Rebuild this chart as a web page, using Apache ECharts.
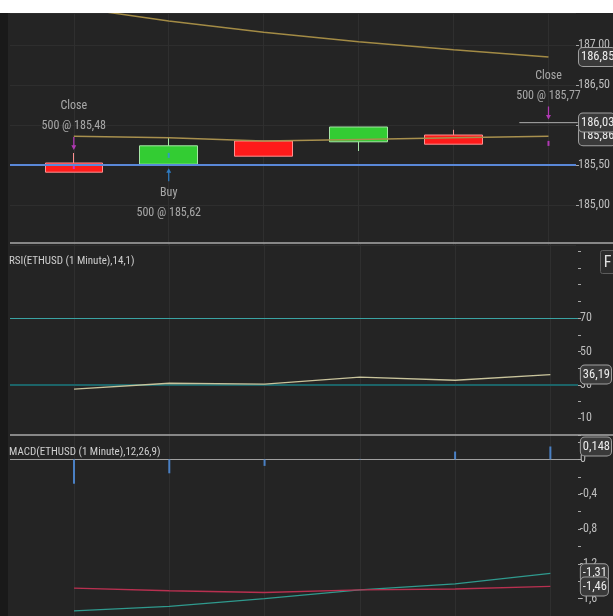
<!DOCTYPE html>
<html><head><meta charset="utf-8">
<script src="https://cdn.jsdelivr.net/npm/echarts@6/dist/echarts.min.js"></script>
<style>html,body{margin:0;padding:0;background:#fff;overflow:hidden}#c{width:613px;height:616px}</style>
</head><body><div id="c"></div>
<script>
// ---- data ----
const barIndex    = [0, 1, 2, 3, 4, 5];
const candleOpen  = [185.525, 185.51, 185.80, 185.79, 185.875, 186.03];
const candleClose = [185.41, 185.74, 185.61, 185.975, 185.76, 186.03];
const candleLow   = [185.41, 185.51, 185.61, 185.675, 185.76, 186.03];
const candleHigh  = [185.65, 185.85, 185.80, 185.975, 185.94, 186.03];
const slowMA = [187.47, 187.30, 187.16, 187.04, 186.94, 186.85];
const fastMA = [185.86, 185.84, 185.80, 185.82, 185.84, 185.86];
const positionPrice = 185.50;
const tradeIndex = [0, 1, 5];
const tradeSide  = ['Close', 'Buy', 'Close'];
const tradeQty   = [500, 500, 500];
const tradePrice = [185.48, 185.62, 185.77];
const rsiValues = [27.5, 31.0, 30.5, 34.7, 32.8, 36.19];
const rsiLevels = [70, 30];
const rsiLabelTicks = [10, 30, 50, 70];
const macdHist   = [-0.28, -0.16, -0.075, 0.005, 0.09, 0.148];
const macdLine   = [-1.74, -1.69, -1.60, -1.50, -1.43, -1.31];
const macdSignal = [-1.48, -1.51, -1.53, -1.50, -1.49, -1.46];
const rsiTitle  = 'RSI(ETHUSD (1 Minute),14,1)';
const macdTitle = 'MACD(ETHUSD (1 Minute),12,26,9)';

// ---- font pick (narrowest installed) ----
function pickFont(list) {
  const c = document.createElement('canvas').getContext('2d');
  const s = '500 @ 185,48 ETHUSD Minute';
  for (const f of list) {
    c.font = '20px monospace'; const a = c.measureText(s).width;
    c.font = "20px '" + f + "', monospace"; const b = c.measureText(s).width;
    if (Math.abs(a - b) > 0.5) return f;
  }
  return 'sans-serif';
}
const FONT_NAME = pickFont(['Liberation Sans Narrow', 'Arial Narrow', 'Roboto Condensed', 'Noto Sans Condensed',
  'Open Sans Condensed', 'DejaVu Sans Condensed', 'Liberation Sans', 'Roboto']);
const FONT = "'" + FONT_NAME + "', sans-serif";
const NARROW = /Narrow|Condensed/.test(FONT_NAME);
const FS_TEXT = NARROW ? 12 : 11;
const FS_AXIS = NARROW ? 12 : 11;
const FS_TAG = NARROW ? 12.5 : 11;
const FS_TITLE = NARROW ? 11 : 10.5;

// ---- helpers ----
const fmt = (v, d) => v.toFixed(d).replace('.', ',');
const last = barIndex.length - 1;
const pts = arr => barIndex.map(i => [i, arr[i]]);
function tag(value, digits) {
  return {
    symbol: 'circle', symbolSize: 1, itemStyle: {color: 'transparent'},
    label: {
      show: true, position: 'right', distance: 30,
      formatter: () => fmt(value, digits),
      color: '#ececec', fontSize: FS_TAG, fontFamily: FONT,
      backgroundColor: '#3a3a3a', borderColor: '#a0a0a0', borderWidth: 1,
      borderRadius: 4, padding: [3, 1, 2, 2]
    },
    data: [{coord: [barIndex[last], value], value: value}]
  };
}
const vGrid = barIndex.map(i => ({xAxis: i}));
const xRange = {min: -0.672, max: 5.29};
const yBase = {
  type: 'value', position: 'right', scale: true,
  axisLine: {show: false, onZero: false},
  axisTick: {show: true, length: 3, lineStyle: {color: '#a8a8a8'}},
  axisLabel: {color: '#bdbdbd', fontSize: FS_AXIS, fontFamily: FONT, margin: 2},
  splitLine: {show: false}
};

const chart = echarts.init(document.getElementById('c'));
chart.setOption({
  animation: false,
  backgroundColor: '#242424',
  title: [
    {text: rsiTitle, left: 9, top: 256, padding: 0,
     textStyle: {color: '#cfcfcf', fontSize: FS_TITLE, fontWeight: 'normal', fontFamily: FONT}},
    {text: macdTitle, left: 9, top: 447, padding: 0,
     textStyle: {color: '#cfcfcf', fontSize: FS_TITLE, fontWeight: 'normal', fontFamily: FONT}}
  ],
  grid: [
    {left: 10, right: 35, top: 13, height: 232},
    {left: 10, right: 35, top: 243, height: 192},
    {left: 10, right: 35, top: 435, height: 185}
  ],
  xAxis: [0, 1, 2].map(g => Object.assign({type: 'value', gridIndex: g, show: false,
    axisLine: {onZero: false}}, xRange)),
  yAxis: [
    Object.assign({}, yBase, {gridIndex: 0, min: 184.5, max: 187.4, interval: 0.5,
      axisLabel: Object.assign({}, yBase.axisLabel, {showMinLabel: false, showMaxLabel: false, formatter: v => fmt(v, 2)}),
      splitLine: {show: true, lineStyle: {color: '#2e2e2e'}}}),
    Object.assign({}, yBase, {gridIndex: 1, min: 0, max: 115, interval: 10,
      axisLabel: Object.assign({}, yBase.axisLabel, {showMaxLabel: false,
        formatter: v => rsiLabelTicks.includes(Math.round(v)) && Math.abs(v - Math.round(v)) < 1e-6 ? String(Math.round(v)) : ''})}),
    Object.assign({}, yBase, {gridIndex: 2, min: -1.8, max: 0.28, interval: 0.2,
      axisLabel: Object.assign({}, yBase.axisLabel, {showMaxLabel: false, formatter: v => {
        if (Math.abs(v) < 1e-9) return '0';
        const k = v / 0.4;
        return Math.abs(k - Math.round(k)) < 1e-6 ? fmt(v, 1) : '';
      }})})
  ],
  series: [
    // price panel
    {type: 'line', xAxisIndex: 0, yAxisIndex: 0, data: pts(fastMA), symbol: 'none',
     lineStyle: {color: '#a8904e', width: 1.5},
     markLine: {silent: true, symbol: 'none', z: 1, label: {show: false},
       lineStyle: {color: '#2f2f2f', type: 'solid', width: 1}, data: vGrid},
     markPoint: tag(fastMA[last], 2)},
    {type: 'candlestick', xAxisIndex: 0, yAxisIndex: 0, barWidth: 58,
     itemStyle: {color: '#33cc33', color0: '#ff1a1a', borderColor: '#a6e6a6', borderColor0: '#ff9090', borderWidth: 1},
     data: barIndex.map(i => {
       const v = [i, candleOpen[i], candleClose[i], candleLow[i], candleHigh[i]];
       if (candleOpen[i] === candleClose[i]) {
         return {value: v, itemStyle: {color: '#9a9a9a', color0: '#9a9a9a', borderColor: '#9a9a9a', borderColor0: '#9a9a9a', borderColorDoji: '#9a9a9a'}};
       }
       return v;
     }),
     markPoint: tag(candleClose[last], 2)},
    {type: 'line', xAxisIndex: 0, yAxisIndex: 0, data: pts(slowMA), symbol: 'none',
     lineStyle: {color: '#a38b45', width: 1.5},
     markLine: {silent: true, symbol: 'none', label: {show: false},
       lineStyle: {color: '#5a88d8', type: 'solid', width: 2}, data: [{yAxis: positionPrice}]},
     markPoint: tag(slowMA[last], 2)},
    // trade price ticks
    {type: 'scatter', xAxisIndex: 0, yAxisIndex: 0, symbol: 'rect', symbolSize: [2, 5], z: 4,
     data: tradeIndex.map((idx, k) => ({value: [idx, tradePrice[k]],
       itemStyle: {color: tradeSide[k] === 'Buy' ? '#2f8fe6' : '#d23cd6'}}))},
    // trade arrows and texts
    {type: 'scatter', xAxisIndex: 0, yAxisIndex: 0, z: 4, clip: false,
     data: tradeIndex.map((idx, k) => {
       const buy = tradeSide[k] === 'Buy';
       return {
         value: [idx, buy ? candleLow[idx] : candleHigh[idx]],
         symbol: buy ? 'path://M4,0 L8,5 L5,5 L5,14 L3,14 L3,5 L0,5 Z'
                     : 'path://M3,0 L5,0 L5,9 L8,9 L4,14 L0,9 L3,9 Z',
         symbolSize: [5, 13], symbolKeepAspect: false,
         symbolOffset: [0, buy ? 10.5 : -9.5],
         itemStyle: {color: buy ? '#2f8fe6' : '#d23cd6'},
         label: {show: true, position: buy ? 'bottom' : 'top', distance: buy ? 2 : 1,
           formatter: () => tradeSide[k] + '\n' + tradeQty[k] + ' @ ' + fmt(tradePrice[k], 2),
           color: '#c8c8c8', fontSize: FS_TEXT, lineHeight: 20, fontFamily: FONT, align: 'center'}
       };
     })},
    // RSI panel
    {type: 'line', xAxisIndex: 1, yAxisIndex: 1, data: pts(rsiValues), symbol: 'none',
     lineStyle: {color: '#c9c49c', width: 1.3},
     markLine: {silent: true, symbol: 'none', z: 1, label: {show: false},
       data: vGrid.map(d => Object.assign({lineStyle: {color: '#2f2f2f', type: 'solid', width: 1}}, d)).concat([
         {yAxis: rsiLevels[0], lineStyle: {color: '#3aa3a3', type: 'solid', width: 1.2}},
         {yAxis: rsiLevels[1], lineStyle: {color: '#1c6468', type: 'solid', width: 2}}])},
     markPoint: tag(rsiValues[last], 2)},
    // MACD panel
    {type: 'bar', xAxisIndex: 2, yAxisIndex: 2, data: pts(macdHist), barWidth: 2,
     itemStyle: {color: '#4a80c4'},
     markLine: {silent: true, symbol: 'none', z: 1, label: {show: false},
       data: vGrid.map(d => Object.assign({lineStyle: {color: '#2f2f2f', type: 'solid', width: 1}}, d)).concat([
         {yAxis: 0, lineStyle: {color: '#a0a0a0', type: 'solid', width: 1}}])},
     markPoint: tag(macdHist[last], 3)},
    {type: 'line', xAxisIndex: 2, yAxisIndex: 2, data: pts(macdLine), symbol: 'none',
     lineStyle: {color: '#2f9a8e', width: 1.3},
     markPoint: tag(macdLine[last], 2)},
    {type: 'line', xAxisIndex: 2, yAxisIndex: 2, data: pts(macdSignal), symbol: 'none',
     lineStyle: {color: '#b83050', width: 1.3},
     markPoint: tag(macdSignal[last], 2)}
  ],
  graphic: [
    {type: 'rect', left: 0, top: 0, z: 100, shape: {width: 613, height: 13}, style: {fill: '#ffffff'}},
    {type: 'rect', left: 0, top: 13, z: 100, shape: {width: 8, height: 603}, style: {fill: '#191919'}},
    {type: 'line', z: 50, shape: {x1: 10, y1: 243, x2: 613, y2: 243}, style: {stroke: '#a8a8a8', lineWidth: 1.5}},
    {type: 'line', z: 50, shape: {x1: 10, y1: 435, x2: 613, y2: 435}, style: {stroke: '#a8a8a8', lineWidth: 1.5}},
    {type: 'group', left: 600, top: 250, z: 60, children: [
      {type: 'rect', shape: {x: 0, y: 0, width: 20, height: 23, r: 2}, style: {fill: '#2c2c2c', stroke: '#5c5c5c', lineWidth: 1}},
      {type: 'text', style: {text: 'F', x: 7, y: 12, align: 'center', verticalAlign: 'middle', fontSize: 16, fill: '#e0e0e0', fontFamily: FONT}}
    ]}
  ]
});
</script></body></html>
